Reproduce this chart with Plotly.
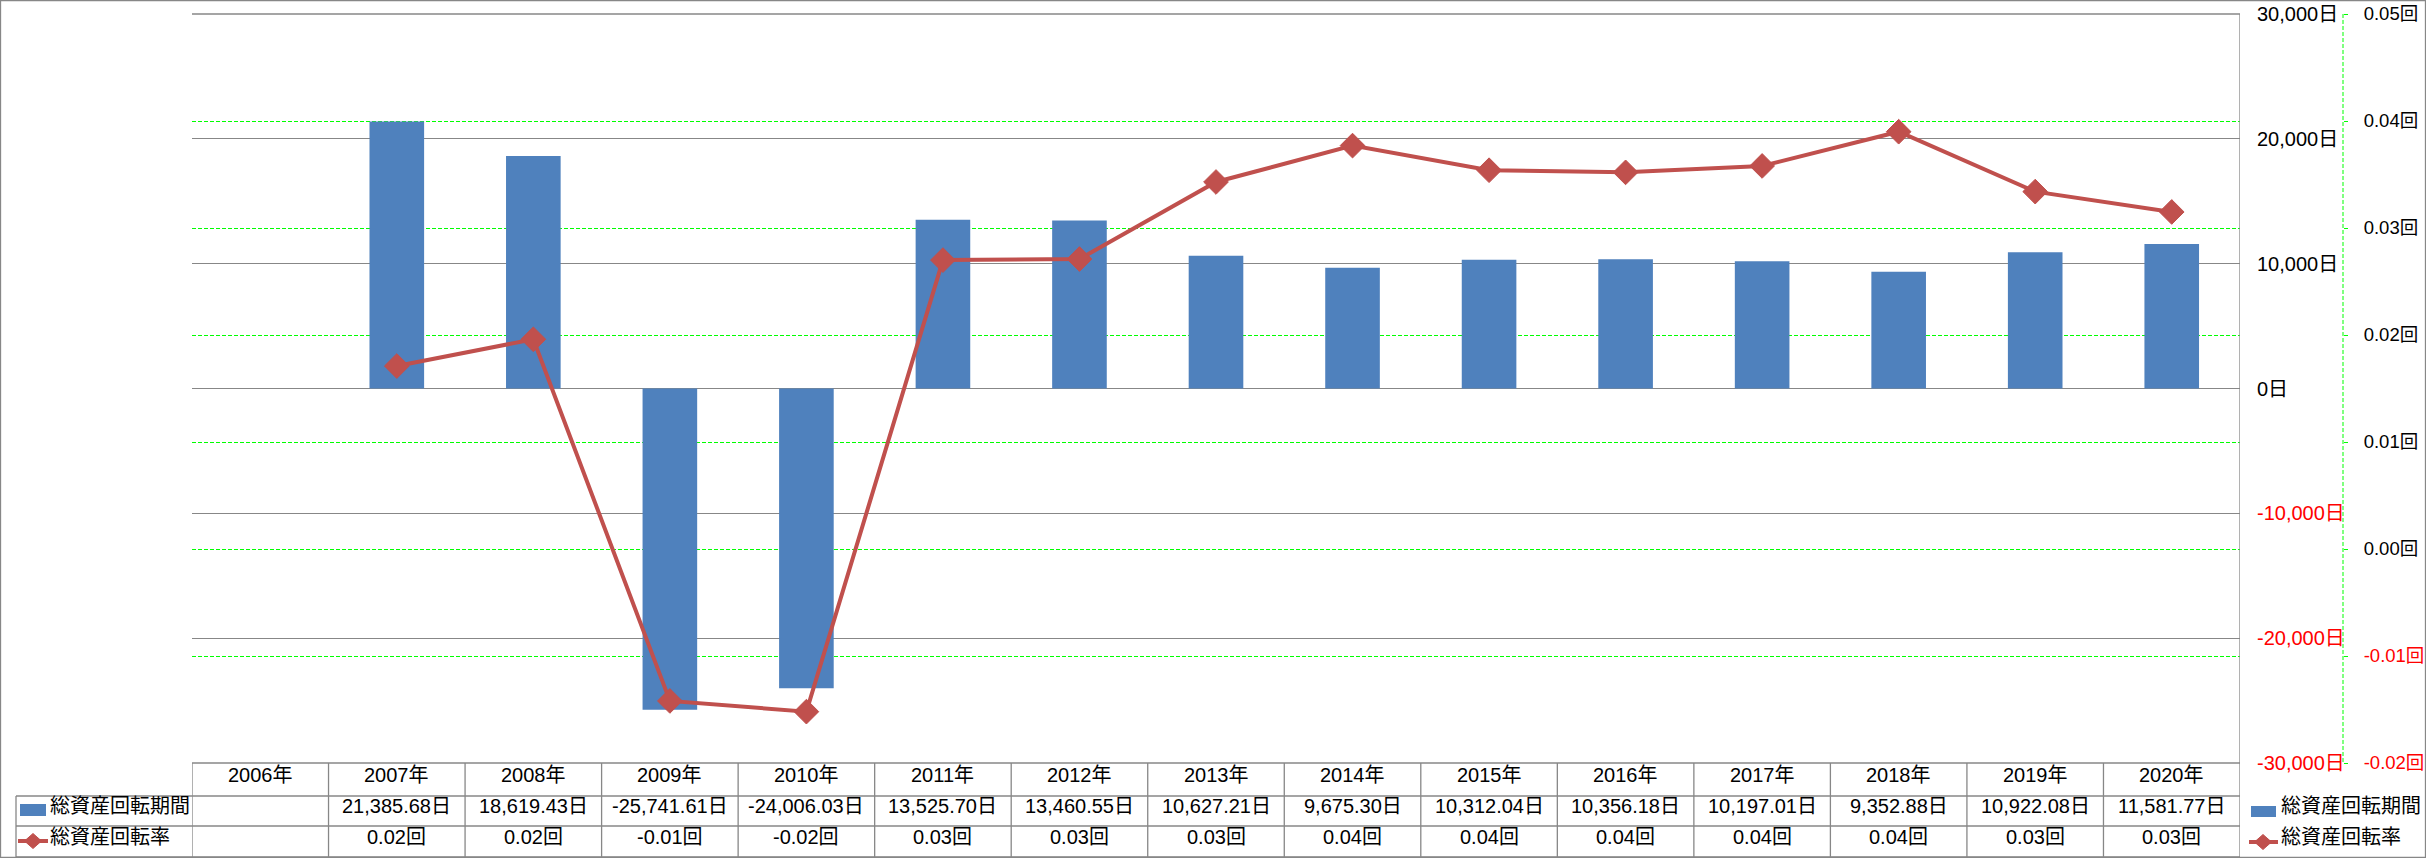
import plotly.graph_objects as go

# ---- data ----
years = ["2006年", "2007年", "2008年", "2009年", "2010年", "2011年", "2012年", "2013年",
         "2014年", "2015年", "2016年", "2017年", "2018年", "2019年", "2020年"]
period = [None, 21385.68, 18619.43, -25741.61, -24006.03, 13525.70, 13460.55, 10627.21,
          9675.30, 10312.04, 10356.18, 10197.01, 9352.88, 10922.08, 11581.77]
rate = [None, 0.0171, 0.0196, -0.0142, -0.0152, 0.0270, 0.0271, 0.0343,
        0.0377, 0.0354, 0.0352, 0.0358, 0.0390, 0.0334, 0.0315]
y1_ticks = [-30000, -20000, -10000, 0, 10000, 20000, 30000]
y2_ticks = [-0.02, -0.01, 0.00, 0.01, 0.02, 0.03, 0.04, 0.05]
name_bar = "総資産回転期間"
name_line = "総資産回転率"

# ---- style ----
W, H = 2426, 858
PL, PR, PT, PB = 192, 2240, 14, 763
Y2X = 2343
BLUE = "#4F81BD"
RED = "#C0504D"
GRAY = "#878787"
GREEN = "#00FF00"
NEG = "#FF0000"
FONT = "Liberation Sans, Noto Sans CJK JP, sans-serif"
FS_TICK = 20
FS_TICK2 = 18.5
FS_TAB = 20
FS_LEG = 20
YSH = -8


def px(x):
    return x / W


def py(y):
    return 1 - y / H


def lab(text, neg):
    return f"<span style='color:{NEG}'>{text}</span>" if neg else text


fig = go.Figure()
fig.add_trace(go.Bar(x=years, y=period, name=name_bar, marker=dict(color=BLUE, line=dict(width=0)),
                     yaxis="y", hoverinfo="skip"))
fig.add_trace(go.Scatter(x=years, y=rate, name=name_line, yaxis="y2", mode="lines+markers",
                         line=dict(color=RED, width=4),
                         marker=dict(symbol="diamond", size=19, color=RED, line=dict(color=RED, width=1)),
                         hoverinfo="skip"))

shapes = []
shapes.append(dict(type="line", xref="paper", yref="paper", x0=px(PL), x1=px(PR), y0=py(PT), y1=py(PT),
                   line=dict(color=GRAY, width=1.3), layer="below"))
shapes.append(dict(type="line", xref="paper", yref="paper", x0=px(Y2X), x1=px(Y2X), y0=py(PT), y1=py(PB),
                   line=dict(color=GREEN, width=1, dash="4px,2px")))

R0, R1, R2, R3 = 763, 796, 826, 857
LC = 16
for i in range(len(years) + 1):
    xb = i - 0.5
    top = PT if i == len(years) else R0
    shapes.append(dict(type="line", xref="x", yref="paper", x0=xb, x1=xb, y0=py(top), y1=py(R3),
                       line=dict(color=GRAY, width=1.3)))
shapes.append(dict(type="line", xref="paper", yref="paper", x0=px(PL), x1=px(PR), y0=py(R0), y1=py(R0),
                   line=dict(color=GRAY, width=1.3)))
for r in (R1, R2, R3):
    shapes.append(dict(type="line", xref="paper", yref="paper", x0=px(LC), x1=px(PR), y0=py(r), y1=py(r),
                       line=dict(color=GRAY, width=1.3)))
shapes.append(dict(type="line", xref="paper", yref="paper", x0=px(LC), x1=px(LC), y0=py(R1), y1=py(R3),
                   line=dict(color=GRAY, width=1.3)))
shapes.append(dict(type="rect", xref="paper", yref="paper", x0=px(0.5), x1=px(W - 0.5), y0=py(0.5), y1=py(H - 0.5),
                   line=dict(color=GRAY, width=1.3)))


def legend_items(xr, yb, xl0, xl1, yl, xd):
    shapes.append(dict(type="rect", xref="paper", yref="paper", x0=px(xr[0]), x1=px(xr[1]),
                       y0=py(yb[0]), y1=py(yb[1]), fillcolor=BLUE, line=dict(width=0)))
    shapes.append(dict(type="line", xref="paper", yref="paper", x0=px(xl0), x1=px(xl1), y0=py(yl), y1=py(yl),
                       line=dict(color=RED, width=4)))
    shapes.append(dict(type="path", xref="paper", yref="paper", xsizemode="pixel", ysizemode="pixel",
                       xanchor=px(xd), yanchor=py(yl), path="M -8.5 0 L 0 7.5 L 8.5 0 L 0 -7.5 Z",
                       fillcolor=RED, line=dict(color=RED, width=1)))


legend_items((20, 46), (804, 816), 18, 48, 841, 33)
legend_items((2251, 2276), (806, 817), 2249, 2278, 842, 2263)

ann = []
for i, yr in enumerate(years):
    ann.append(dict(x=yr, xref="x", y=py((R0 + R1) / 2), yref="paper", text=yr, showarrow=False,
                    yshift=YSH, font=dict(size=FS_TAB, color="black", family=FONT)))
    if period[i] is not None:
        ann.append(dict(x=yr, xref="x", y=py((R1 + R2) / 2), yref="paper", text=f"{period[i]:,.2f}日",
                        showarrow=False, yshift=YSH, font=dict(size=FS_TAB, color="black", family=FONT)))
    if rate[i] is not None:
        ann.append(dict(x=yr, xref="x", y=py((R2 + R3) / 2), yref="paper", text=f"{rate[i]:.2f}回",
                        showarrow=False, yshift=YSH, font=dict(size=FS_TAB, color="black", family=FONT)))
for xt, yt, t in ((48, (R1 + R2) / 2, name_bar), (48, (R2 + R3) / 2, name_line),
                  (2279, 811, name_bar), (2279, 842, name_line)):
    ann.append(dict(x=px(xt), xref="paper", y=py(yt), yref="paper", text=t, showarrow=False,
                    xanchor="left", yshift=YSH, font=dict(size=FS_LEG, color="black", family=FONT)))

fig.update_layout(
    width=W, height=H, margin=dict(l=0, r=0, t=0, b=0, pad=0, autoexpand=False),
    paper_bgcolor="white", plot_bgcolor="white",
    showlegend=False, bargap=0.6,
    font=dict(family=FONT, size=FS_TICK, color="black"),
    xaxis=dict(domain=[px(PL), px(PR)], type="category", range=[-0.5, len(years) - 0.5],
               showticklabels=False, showgrid=False, zeroline=False, showline=False, fixedrange=True,
               automargin=False),
    yaxis=dict(domain=[py(PB), py(PT)], range=[-30000, 30000], side="right",
               tickvals=y1_ticks, ticktext=[lab(f"{v:,}日", v < 0) for v in y1_ticks],
               showgrid=True, gridcolor=GRAY, gridwidth=1.3, zeroline=False, showline=False,
               ticks="", ticklabelstandoff=16, tickfont=dict(size=FS_TICK, family=FONT), automargin=False),
    yaxis2=dict(overlaying="y", anchor="free", position=px(Y2X), side="right", range=[-0.02, 0.05],
                tickvals=y2_ticks, ticktext=[lab(f"{v:.2f}回", v < 0) for v in y2_ticks],
                showgrid=True, gridcolor=GREEN, gridwidth=1, griddash="4px,2px", zeroline=False,
                showline=False, ticks="outside", ticklen=4, tickcolor=GREEN, tickwidth=1,
                ticklabelstandoff=12, tickfont=dict(size=FS_TICK2, family=FONT), automargin=False),
    shapes=shapes, annotations=ann,
)

fig.write_html("out.html")
